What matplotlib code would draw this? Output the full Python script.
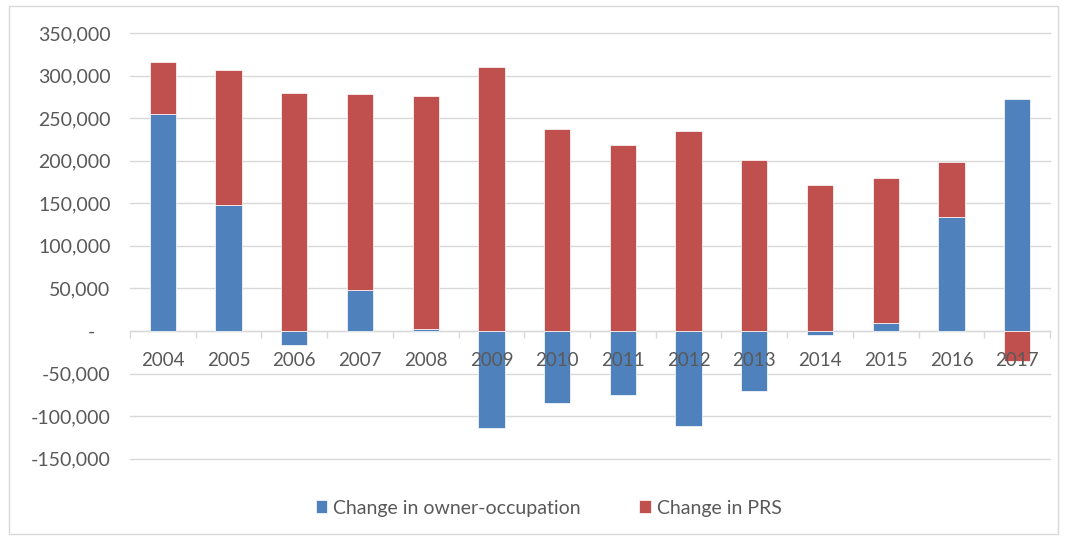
import numpy as np
import matplotlib.pyplot as plt
from matplotlib.patches import Rectangle
from matplotlib.ticker import FuncFormatter

plt.rcParams['font.family'] = ['Lato', 'DejaVu Sans']

# Data
years = ['2004', '2005', '2006', '2007', '2008', '2009', '2010',
         '2011', '2012', '2013', '2014', '2015', '2016', '2017']
owner_occ = [255000, 148000, -17000, 48000, 2000, -114000, -85000,
             -75000, -112000, -71000, -5000, 9000, 134000, 273000]
prs = [61000, 158000, 280000, 230000, 274000, 310000, 237000,
       219000, 235000, 201000, 171000, 171000, 65000, -35000]

blue = '#4F81BD'
red = '#C0504D'
grid_col = '#D9D9D9'
text_col = '#595959'

owner_occ = np.array(owner_occ)
prs = np.array(prs)
x = np.arange(len(years))

# Excel-style stacking: positives on positives, negatives on negatives
pos_base = np.where(owner_occ > 0, owner_occ, 0)
neg_base = np.where(owner_occ < 0, owner_occ, 0)
prs_bottom = np.where(prs >= 0, pos_base, neg_base)

fig = plt.figure(figsize=(10.65, 5.37), dpi=100)
ax = fig.add_axes([0.122, 0.145, 0.864, 0.7935])

ax.bar(x, owner_occ, width=0.4, color=blue, edgecolor='white', linewidth=0.5,
       label='Change in owner-occupation', zorder=2)
ax.bar(x, prs, width=0.4, bottom=prs_bottom, color=red, edgecolor='white',
       linewidth=0.5, label='Change in PRS', zorder=2)

ax.set_xlim(-0.5, len(years) - 0.5)
ax.set_ylim(-150600, 350000)
ax.set_yticks(np.arange(-150000, 350001, 50000))


def fmt(v, pos):
    if v == 0:
        return '-   '
    return f'{v:,.0f}'


ax.yaxis.set_major_formatter(FuncFormatter(fmt))
ax.grid(axis='y', color=grid_col, linewidth=1)
for gl in ax.get_ygridlines():
    gl.set_clip_on(False)
ax.set_axisbelow(True)
# category labels sit on top of the bars, as in Excel
ax.xaxis.set_zorder(3)

for s in ['top', 'right', 'left']:
    ax.spines[s].set_visible(False)
ax.spines['bottom'].set_position(('data', 0))
ax.spines['bottom'].set_color(grid_col)
ax.spines['bottom'].set_linewidth(1)
ax.spines['bottom'].set_zorder(1)

ax.set_xticks(x)
ax.set_xticklabels(years)
ax.set_xticks(np.arange(-0.5, len(years), 1), minor=True)
ax.tick_params(axis='x', which='major', length=0, pad=15, labelsize=13.5,
               labelcolor=text_col)
ax.tick_params(axis='x', which='minor', length=5, color=grid_col, width=1)
ax.tick_params(axis='y', length=0, pad=14, labelsize=14, labelcolor=text_col)

leg = fig.legend(loc='center', bbox_to_anchor=(0.515, 0.054), ncol=2,
                 frameon=False, fontsize=14, handlelength=0.6,
                 handleheight=0.6, columnspacing=3.0, handletextpad=0.3)
for t in leg.get_texts():
    t.set_color(text_col)

# Light chart border
fig.patches.append(Rectangle((0.008, 0.006), 0.985, 0.982,
                             transform=fig.transFigure, fill=False,
                             edgecolor=grid_col, linewidth=1))

fig.savefig('out.png', dpi=100)
